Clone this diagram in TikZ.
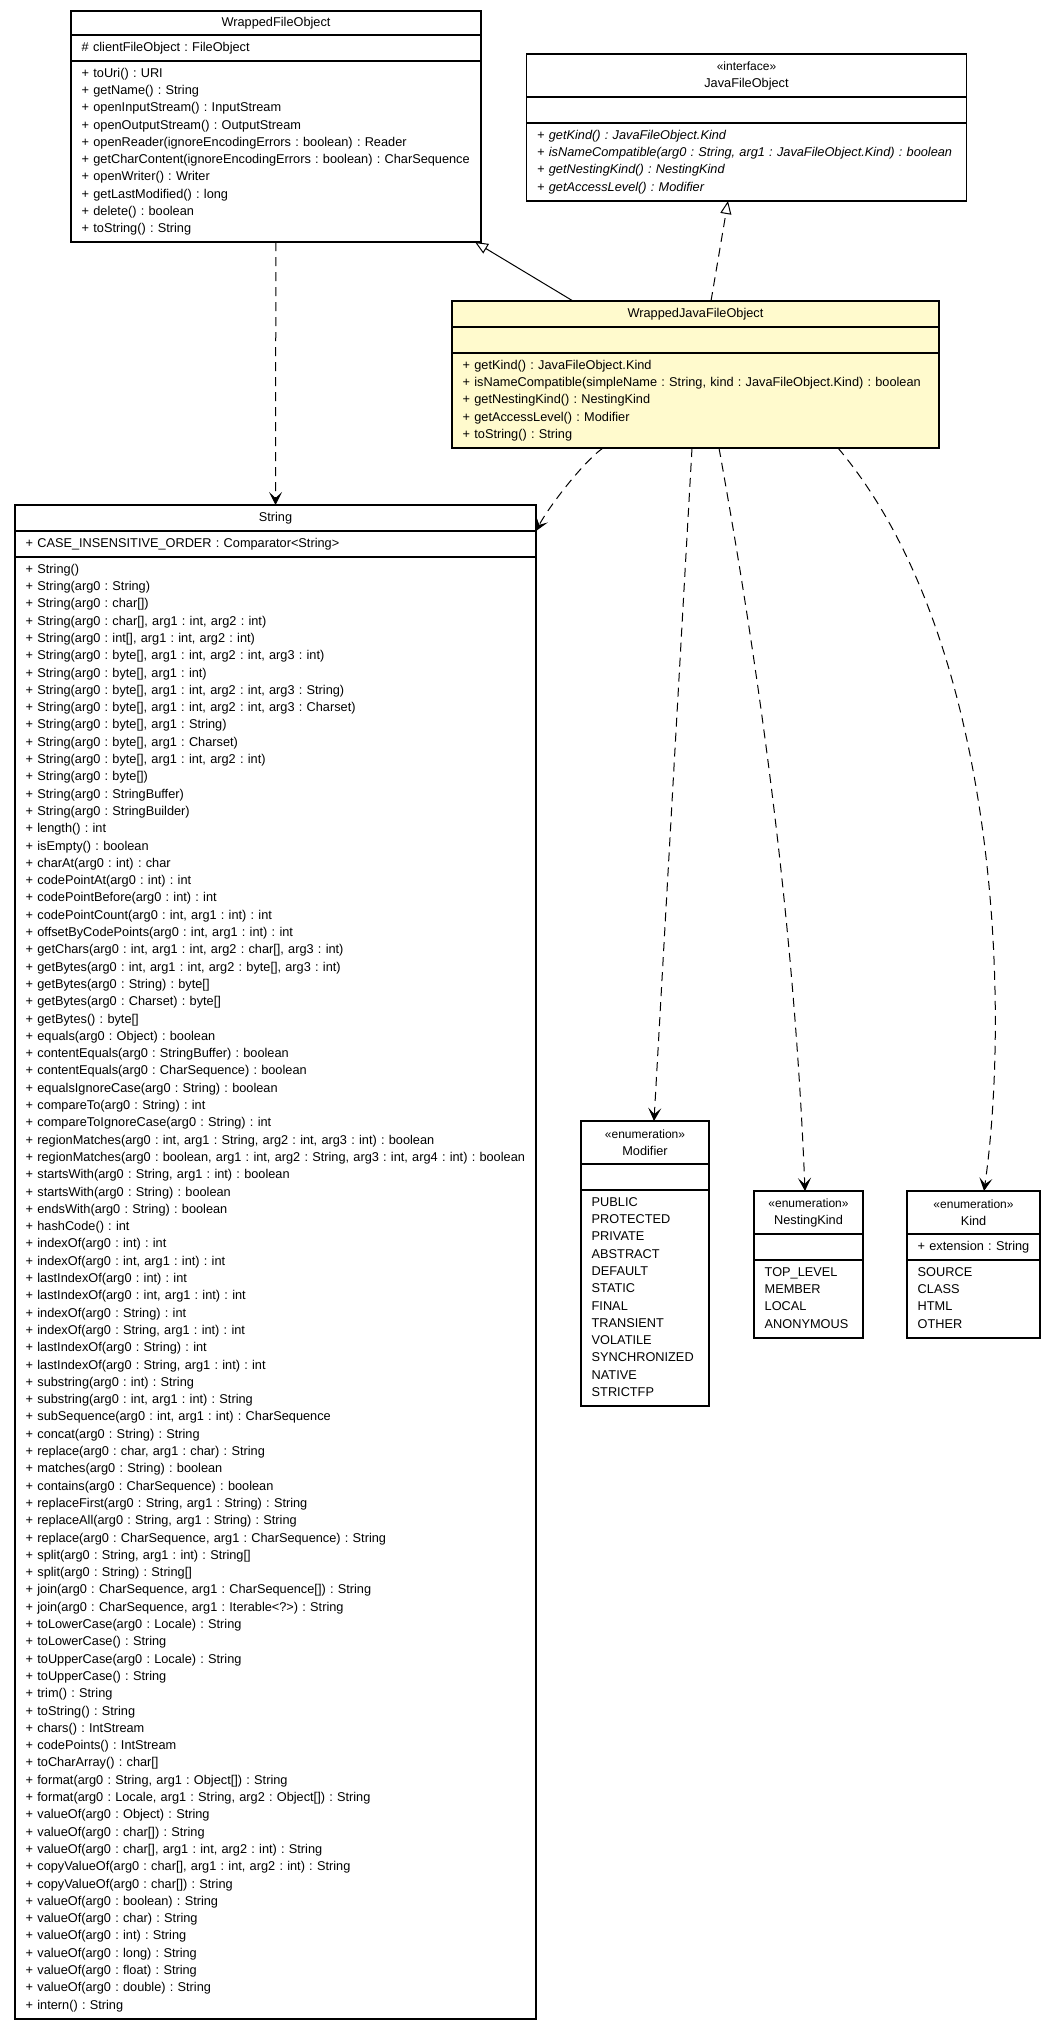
\documentclass[tikz,border=0pt]{standalone}
\usepackage{fontspec}
\setmainfont{Liberation Sans}
\usepackage{xcolor}
\usepackage{tikz}
\usetikzlibrary{arrows.meta, positioning}
\definecolor{umlyellow}{HTML}{FFFACD}
\newcommand{\memberfont}{\fontsize{12.75}{17.3}\selectfont\frenchspacing}
\newcommand{\stereofont}{\fontsize{12}{17.3}\selectfont}

\begin{document}
\begin{tikzpicture}[
    x=1pt, y=-1pt,
    every node/.style={font=\memberfont},
    compart/.style={
        rectangle,
        draw=black,
        line width=1.2pt,
        fill=white,
        inner sep=0pt,
        outer sep=0pt,
        minimum width=#1,
        text width=#1,
        text height=9.5pt,
        align=center
    },
    titlepart/.style={
        compart=#1,
        text depth=2.7pt
    },
    members/.style={
        align=left,
        text width=600pt,
        inner sep=0pt,
        text height=9.5pt
    },
    deparrow/.style={
        -{Stealth[length=13pt, width=13pt, inset=6pt]},
        line width=1pt,
        dash pattern=on 9pt off 6pt
    },
    inharrow/.style={
        -{Triangle[length=13pt, width=11pt, fill=white]},
        line width=1pt
    },
    realarrow/.style={
        inharrow,
        dash pattern=on 9pt off 6pt
    }
]

\fill[white] (0,0) rectangle (1056,2031);
\useasboundingbox (0,0) rectangle (1056,2031);

% WrappedFileObject
\node[titlepart=410, minimum height=24, anchor=north] (wfo) at (276,11) {WrappedFileObject};
\node[compart=410, minimum height=26, below=0pt of wfo] (wfoattr) {};
\node[compart=410, minimum height=181, below=0pt of wfoattr] (wfoops) {};
\node[members, below right=6.5pt and 10.5pt of wfoattr.north west] (wfoattrtext) {\# clientFileObject : FileObject};
\node[members, below right=6.5pt and 10.5pt of wfoops.north west] (wfoopstext) {+ toUri() : URI\\
+ getName() : String\\
+ openInputStream() : InputStream\\
+ openOutputStream() : OutputStream\\
+ openReader(ignoreEncodingErrors : boolean) : Reader\\
+ getCharContent(ignoreEncodingErrors : boolean) : CharSequence\\
+ openWriter() : Writer\\
+ getLastModified() : long\\
+ delete() : boolean\\
+ toString() : String};

% JavaFileObject
\node[compart=440, minimum height=43, anchor=north] (jfo) at (746.5,54) {{\stereofont «interface»}\\JavaFileObject};
\node[compart=440, minimum height=26, below=0pt of jfo] (jfoattr) {};
\node[compart=440, minimum height=78, below=0pt of jfoattr] (jfoops) {};
\node[members, font=\memberfont\itshape, below right=6.5pt and 10.5pt of jfoops.north west] (jfoopstext) {+ getKind() : JavaFileObject.Kind\\
+ isNameCompatible(arg0 : String, arg1 : JavaFileObject.Kind) : boolean\\
+ getNestingKind() : NestingKind\\
+ getAccessLevel() : Modifier};

% WrappedJavaFileObject
\node[titlepart=487, fill=umlyellow, minimum height=26, anchor=north] (wjfo) at (695.5,301) {WrappedJavaFileObject};
\node[compart=487, fill=umlyellow, minimum height=26, below=0pt of wjfo] (wjfoattr) {};
\node[compart=487, fill=umlyellow, minimum height=95, below=0pt of wjfoattr] (wjfoops) {};
\node[members, below right=6.5pt and 10.5pt of wjfoops.north west] (wjfoopstext) {+ getKind() : JavaFileObject.Kind\\
+ isNameCompatible(simpleName : String, kind : JavaFileObject.Kind) : boolean\\
+ getNestingKind() : NestingKind\\
+ getAccessLevel() : Modifier\\
+ toString() : String};

% String
\node[titlepart=521, minimum height=26, anchor=north] (string) at (275.5,505) {String};
\node[compart=521, minimum height=26, below=0pt of string] (stringattr) {};
\node[compart=521, minimum height=1462, below=0pt of stringattr] (stringops) {};
\node[members, below right=6.5pt and 10.5pt of stringattr.north west] (stringattrtext) {+ CASE\_INSENSITIVE\_ORDER : Comparator<String>};
\node[members, below right=6.5pt and 10.5pt of stringops.north west] (stringopstext) {+ String()\\
+ String(arg0 : String)\\
+ String(arg0 : char[])\\
+ String(arg0 : char[], arg1 : int, arg2 : int)\\
+ String(arg0 : int[], arg1 : int, arg2 : int)\\
+ String(arg0 : byte[], arg1 : int, arg2 : int, arg3 : int)\\
+ String(arg0 : byte[], arg1 : int)\\
+ String(arg0 : byte[], arg1 : int, arg2 : int, arg3 : String)\\
+ String(arg0 : byte[], arg1 : int, arg2 : int, arg3 : Charset)\\
+ String(arg0 : byte[], arg1 : String)\\
+ String(arg0 : byte[], arg1 : Charset)\\
+ String(arg0 : byte[], arg1 : int, arg2 : int)\\
+ String(arg0 : byte[])\\
+ String(arg0 : StringBuffer)\\
+ String(arg0 : StringBuilder)\\
+ length() : int\\
+ isEmpty() : boolean\\
+ charAt(arg0 : int) : char\\
+ codePointAt(arg0 : int) : int\\
+ codePointBefore(arg0 : int) : int\\
+ codePointCount(arg0 : int, arg1 : int) : int\\
+ offsetByCodePoints(arg0 : int, arg1 : int) : int\\
+ getChars(arg0 : int, arg1 : int, arg2 : char[], arg3 : int)\\
+ getBytes(arg0 : int, arg1 : int, arg2 : byte[], arg3 : int)\\
+ getBytes(arg0 : String) : byte[]\\
+ getBytes(arg0 : Charset) : byte[]\\
+ getBytes() : byte[]\\
+ equals(arg0 : Object) : boolean\\
+ contentEquals(arg0 : StringBuffer) : boolean\\
+ contentEquals(arg0 : CharSequence) : boolean\\
+ equalsIgnoreCase(arg0 : String) : boolean\\
+ compareTo(arg0 : String) : int\\
+ compareToIgnoreCase(arg0 : String) : int\\
+ regionMatches(arg0 : int, arg1 : String, arg2 : int, arg3 : int) : boolean\\
+ regionMatches(arg0 : boolean, arg1 : int, arg2 : String, arg3 : int, arg4 : int) : boolean\\
+ startsWith(arg0 : String, arg1 : int) : boolean\\
+ startsWith(arg0 : String) : boolean\\
+ endsWith(arg0 : String) : boolean\\
+ hashCode() : int\\
+ indexOf(arg0 : int) : int\\
+ indexOf(arg0 : int, arg1 : int) : int\\
+ lastIndexOf(arg0 : int) : int\\
+ lastIndexOf(arg0 : int, arg1 : int) : int\\
+ indexOf(arg0 : String) : int\\
+ indexOf(arg0 : String, arg1 : int) : int\\
+ lastIndexOf(arg0 : String) : int\\
+ lastIndexOf(arg0 : String, arg1 : int) : int\\
+ substring(arg0 : int) : String\\
+ substring(arg0 : int, arg1 : int) : String\\
+ subSequence(arg0 : int, arg1 : int) : CharSequence\\
+ concat(arg0 : String) : String\\
+ replace(arg0 : char, arg1 : char) : String\\
+ matches(arg0 : String) : boolean\\
+ contains(arg0 : CharSequence) : boolean\\
+ replaceFirst(arg0 : String, arg1 : String) : String\\
+ replaceAll(arg0 : String, arg1 : String) : String\\
+ replace(arg0 : CharSequence, arg1 : CharSequence) : String\\
+ split(arg0 : String, arg1 : int) : String[]\\
+ split(arg0 : String) : String[]\\
+ join(arg0 : CharSequence, arg1 : CharSequence[]) : String\\
+ join(arg0 : CharSequence, arg1 : Iterable<?>) : String\\
+ toLowerCase(arg0 : Locale) : String\\
+ toLowerCase() : String\\
+ toUpperCase(arg0 : Locale) : String\\
+ toUpperCase() : String\\
+ trim() : String\\
+ toString() : String\\
+ chars() : IntStream\\
+ codePoints() : IntStream\\
+ toCharArray() : char[]\\
+ format(arg0 : String, arg1 : Object[]) : String\\
+ format(arg0 : Locale, arg1 : String, arg2 : Object[]) : String\\
+ valueOf(arg0 : Object) : String\\
+ valueOf(arg0 : char[]) : String\\
+ valueOf(arg0 : char[], arg1 : int, arg2 : int) : String\\
+ copyValueOf(arg0 : char[], arg1 : int, arg2 : int) : String\\
+ copyValueOf(arg0 : char[]) : String\\
+ valueOf(arg0 : boolean) : String\\
+ valueOf(arg0 : char) : String\\
+ valueOf(arg0 : int) : String\\
+ valueOf(arg0 : long) : String\\
+ valueOf(arg0 : float) : String\\
+ valueOf(arg0 : double) : String\\
+ intern() : String};

% Modifier
\node[compart=128, minimum height=43, anchor=north] (modifier) at (645,1121) {{\stereofont «enumeration»}\\Modifier};
\node[compart=128, minimum height=26, below=0pt of modifier] (modifierattr) {};
\node[compart=128, minimum height=216, below=0pt of modifierattr] (modifiervals) {};
\node[members, below right=6.5pt and 10.5pt of modifiervals.north west] (modifiervalstext) {PUBLIC\\
PROTECTED\\
PRIVATE\\
ABSTRACT\\
DEFAULT\\
STATIC\\
FINAL\\
TRANSIENT\\
VOLATILE\\
SYNCHRONIZED\\
NATIVE\\
STRICTFP};

% NestingKind
\node[compart=109, minimum height=43, anchor=north] (nestingkind) at (808.5,1191) {{\stereofont «enumeration»}\\NestingKind};
\node[compart=109, minimum height=26, below=0pt of nestingkind] (nestingkindattr) {};
\node[compart=109, minimum height=78, below=0pt of nestingkindattr] (nestingkindvals) {};
\node[members, below right=6.5pt and 10.5pt of nestingkindvals.north west] (nestingkindvalstext) {TOP\_LEVEL\\
MEMBER\\
LOCAL\\
ANONYMOUS};

% Kind
\node[compart=133, minimum height=43, anchor=north] (kind) at (973.5,1191) {{\stereofont «enumeration»}\\Kind};
\node[compart=133, minimum height=26, below=0pt of kind] (kindattr) {};
\node[compart=133, minimum height=78, below=0pt of kindattr] (kindvals) {};
\node[members, below right=6.5pt and 10.5pt of kindattr.north west] (kindattrtext) {+ extension : String};
\node[members, below right=6.5pt and 10.5pt of kindvals.north west] (kindvalstext) {SOURCE\\
CLASS\\
HTML\\
OTHER};

% Generalization and realization
\draw[inharrow] ([xshift=121pt]wjfo.north west) -- ([xshift=-6pt]wfoops.south east);
\draw[realarrow] ([xshift=259pt]wjfo.north west) -- ([xshift=-18.5pt]jfoops.south);

% Dependencies
\draw[deparrow] (wfoops) -- (string);
\draw[deparrow] ([xshift=151pt]wjfoops.south west) .. controls (583,462) and (548,508) .. (string.south east);
\draw[deparrow] ([xshift=240pt]wjfoops.south west) -- ([xshift=9pt]modifier.north);
\draw[deparrow] ([xshift=267pt]wjfoops.south west) .. controls (764,697) and (795,941) .. ([xshift=-3.5pt]nestingkind.north);
\draw[deparrow] ([xshift=386pt]wjfoops.south west) .. controls (1000,640) and (1010,1010) .. ([xshift=10.5pt]kind.north);

\end{tikzpicture}
\end{document}
